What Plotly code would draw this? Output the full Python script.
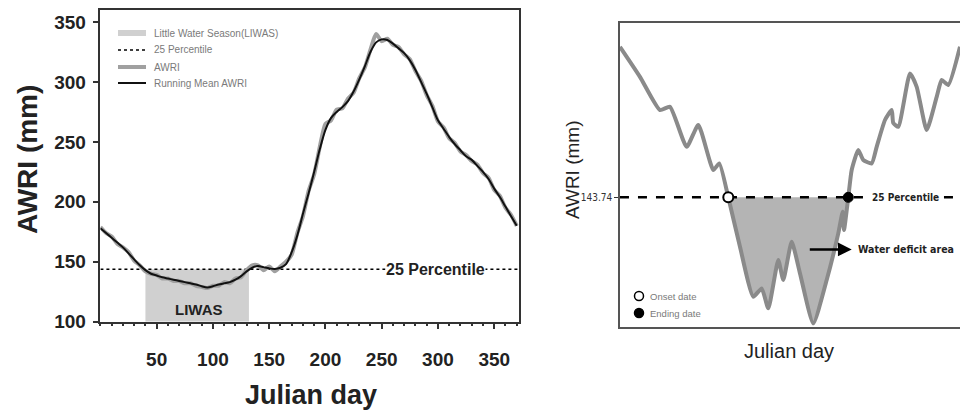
import plotly.graph_objects as go

# ---------------- Left panel data ----------------
days = [0, 5, 10, 15, 20, 25, 30, 35, 40, 45, 50, 55, 60, 65, 70, 75, 80, 85, 90, 95,
        100, 105, 110, 115, 120, 125, 130, 135, 140, 145, 150, 155, 160, 165, 170, 175,
        180, 185, 190, 195, 200, 205, 210, 215, 220, 225, 230, 235, 240, 245, 250, 255,
        260, 265, 270, 275, 280, 285, 290, 295, 300, 305, 310, 315, 320, 325, 330, 335,
        340, 345, 350, 355, 360, 365, 370]
running_mean = [178, 174, 170, 166, 162, 157, 152, 147, 143, 140, 138.5, 137, 136, 135, 134,
                133, 132, 131, 129.5, 128.5, 129.5, 131, 132, 133, 135, 138, 142, 145, 146.5,
                145.5, 144.5, 144, 145, 148, 158, 172, 190, 207, 225, 244, 260, 270, 275,
                279, 284, 292, 302, 313, 325, 333, 335.5, 335, 332, 328, 324, 318, 310, 300,
                290, 279, 268, 261, 254, 248, 243, 238, 235, 230, 225, 219, 211, 204, 196,
                188, 180]
awri = [179, 174, 171, 165, 162, 158, 151, 147, 142, 140, 139, 136, 136, 134, 134,
        132, 132, 130, 129, 128, 130, 130, 133, 132, 136, 137, 143, 147, 147,
        143, 146, 142, 146, 150, 156, 174, 188, 209, 223, 246, 265, 268, 277,
        278, 286, 291, 303, 312, 327, 340, 334, 336, 331, 329, 323, 319, 309, 301,
        289, 280, 267, 262, 253, 249, 242, 239, 234, 231, 224, 220, 210, 205, 195,
        189, 180]
p25 = 143.74
liwas_start = 40
liwas_end = 132
left_xticks = [50, 100, 150, 200, 250, 300, 350]
left_yticks = [100, 150, 200, 250, 300, 350]
left_legend_labels = ["Little Water Season(LIWAS)", "25 Percentile", "AWRI", "Running Mean AWRI"]

# ---------------- Right panel data (schematic) ----------------
r_days = [0, 20, 40, 50, 66.7, 78.3, 93.3, 99.3, 108.3, 120, 133.3, 141.7, 148.3, 158.3,
          163.3, 171.7, 180, 193.3, 206.7, 218.3, 222.7, 224, 228.3, 231.7, 238.3, 243.3,
          251.7, 256.7, 265, 271.7, 273.3, 278.3, 290, 296.7, 306.7, 316.7, 321.7, 328.3, 340]
r_awri = [219, 204, 187.4, 189, 169, 179.9, 157.4, 160.7, 143.74, 119, 94, 98.2, 88.2, 112.4,
          102.4, 121.5, 105.7, 80.7, 102.4, 125.7, 136.5, 127.4, 143.74, 157.4, 167.4, 162.4,
          160.7, 169, 182.4, 187.4, 180.9, 179, 205.7, 199, 177.4, 194, 202.4, 199.9, 219]
onset_idx = 8
ending_idx = 22
right_legend_labels = ["Onset date", "Ending date"]

W, H = 960, 414


def px(x):
    return x / W


def py(y):
    return 1 - y / H


fig = go.Figure()

# LIWAS rectangle
fig.add_trace(go.Scatter(
    x=[liwas_start, liwas_start, liwas_end, liwas_end, liwas_start],
    y=[100, p25, p25, 100, 100], fill="toself", fillcolor="#d0d0d0",
    line=dict(width=0, color="#d0d0d0"), mode="lines",
    xaxis="x", yaxis="y", hoverinfo="skip"))
# 25 percentile
fig.add_trace(go.Scatter(
    x=[0, 372], y=[p25, p25], mode="lines",
    line=dict(color="black", width=1.6, dash="dot"), xaxis="x", yaxis="y"))
# AWRI
fig.add_trace(go.Scatter(
    x=days, y=awri, mode="lines", line=dict(color="#a0a0a0", width=4, shape="spline", smoothing=0.6),
    xaxis="x", yaxis="y"))
# Running mean
fig.add_trace(go.Scatter(
    x=days, y=running_mean, mode="lines",
    line=dict(color="#111111", width=2, shape="spline", smoothing=0.8),
    xaxis="x", yaxis="y"))

# Right panel: deficit fill
fig.add_trace(go.Scatter(
    x=r_days[onset_idx:ending_idx + 1], y=r_awri[onset_idx:ending_idx + 1],
    mode="lines", line=dict(width=0, shape="spline", smoothing=0.5),
    fill="toself", fillcolor="#b4b4b4",
    xaxis="x2", yaxis="y2", hoverinfo="skip"))
fig.add_trace(go.Scatter(
    x=[0, 340], y=[p25, p25], mode="lines",
    line=dict(color="black", width=2.5, dash="dash"), xaxis="x2", yaxis="y2"))
fig.add_trace(go.Scatter(
    x=r_days, y=r_awri, mode="lines",
    line=dict(color="#8a8a8a", width=4, shape="spline", smoothing=0.5),
    xaxis="x2", yaxis="y2"))
fig.add_trace(go.Scatter(
    x=[r_days[onset_idx]], y=[r_awri[onset_idx]], mode="markers",
    marker=dict(symbol="circle", size=10, color="white", line=dict(color="black", width=2)),
    xaxis="x2", yaxis="y2"))
fig.add_trace(go.Scatter(
    x=[r_days[ending_idx]], y=[r_awri[ending_idx]], mode="markers",
    marker=dict(symbol="circle", size=10, color="black", line=dict(color="black", width=1)),
    xaxis="x2", yaxis="y2"))

tickfont = dict(family="Liberation Sans, Arial", size=19, color="#222", weight="bold")
fig.update_layout(
    width=W, height=H, autosize=False,
    margin=dict(l=0, r=0, t=0, b=0),
    paper_bgcolor="white", plot_bgcolor="white",
    font=dict(family="Liberation Sans, Arial", color="#222"),
    showlegend=False,
    xaxis=dict(domain=[0.1046, 0.5406], range=[0, 372], tickvals=left_xticks,
               ticks="outside", ticklen=6, tickwidth=1.5, tickcolor="#333",
               minor=dict(dtick=10, tick0=0, ticks="outside", ticklen=3, tickcolor="#333"),
               showline=True, linecolor="#333", linewidth=1.5, mirror=True,
               showgrid=False, zeroline=False, tickfont=tickfont, ticklabelstandoff=14,
               automargin=False),
    yaxis=dict(domain=[0.2230, 0.9758], range=[100, 360], tickvals=left_yticks,
               ticks="outside", ticklen=6, tickwidth=1.5, tickcolor="#333",
               showline=True, linecolor="#333", linewidth=1.5, mirror=True,
               showgrid=False, zeroline=False, tickfont=tickfont, ticklabelstandoff=3,
               automargin=False),
    xaxis2=dict(domain=[0.6458, 1.0], range=[0, 340], showticklabels=False, ticks="",
                showline=True, linecolor="#555", linewidth=1.5, mirror=True,
                showgrid=False, zeroline=False, anchor="y2", automargin=False),
    yaxis2=dict(domain=[0.2109, 0.9444], range=[79.04, 230.9], tickvals=[p25],
                ticktext=["143.74"], ticks="outside", ticklen=4, tickcolor="#333",
                tickfont=dict(family="Liberation Sans Narrow, DejaVu Sans Condensed, Liberation Sans",
                              size=10, color="#333"),
                showline=True, linecolor="#555", linewidth=1.5, mirror=True,
                showgrid=False, zeroline=False, anchor="x2", automargin=False),
)

narrow = "Liberation Sans Narrow, DejaVu Sans Condensed, Liberation Sans"
ann = []


def pann(x, y, text, size, angle=0, color="#222", family=None, xanchor="center"):
    f = dict(size=size, color=color)
    if family:
        f["family"] = family
    ann.append(dict(x=px(x), y=py(y), xref="paper", yref="paper", text=text,
                    textangle=angle, showarrow=False, xanchor=xanchor, yanchor="middle",
                    font=f))


# axis titles
pann(28, 160, "<b>AWRI (mm)</b>", 28, angle=-90)
pann(311, 395, "<b>Julian day</b>", 27)
pann(572, 170, "AWRI (mm)", 19, angle=-90)
pann(789, 351, "Julian day", 20)

# left in-plot labels
ann.append(dict(x=(liwas_start + liwas_end) / 2 + 2, y=110, xref="x", yref="y",
                text="<b>LIWAS</b>", showarrow=False, font=dict(size=15, color="#222")))
ann.append(dict(x=298, y=p25, xref="x", yref="y", text="<b>25 Percentile</b>",
                showarrow=False, bgcolor="white", borderpad=0,
                font=dict(size=16, color="#222")))

# right in-plot labels
ann.append(dict(x=249, y=p25, xref="x2", yref="y2", text="<b>25 Percentile</b>",
                xanchor="left", showarrow=False, bgcolor="white", borderpad=2,
                font=dict(family=narrow, size=10, color="#222")))
ann.append(dict(x=231.7, y=117.7, xref="x2", yref="y2", ax=188.3, ay=117.7,
                axref="x2", ayref="y2", text="", showarrow=True, arrowhead=2,
                arrowsize=1.1, arrowwidth=2.5, arrowcolor="black"))
ann.append(dict(x=236, y=117.7, xref="x2", yref="y2", text="<b>Water deficit area</b>",
                xanchor="left", showarrow=False,
                font=dict(family=narrow, size=10.5, color="#222")))

# manual legend (left panel)
shapes = []
leg_rows = [33, 50, 67, 83]
leg_styles = [dict(color="#d0d0d0", width=6),
              dict(color="black", width=1.6, dash="dot"),
              dict(color="#a0a0a0", width=4),
              dict(color="#111111", width=2)]
for yrow, lab, st in zip(leg_rows, left_legend_labels, leg_styles):
    shapes.append(dict(type="line", xref="paper", yref="paper",
                       x0=px(118), x1=px(146), y0=py(yrow), y1=py(yrow), line=st))
    pann(152, yrow, lab, 10, color="#7a7a7a", xanchor="left")

# manual legend (right panel)
r_rows = [296, 313]
r_fill = ["white", "black"]
for yrow, lab, fc in zip(r_rows, right_legend_labels, r_fill):
    shapes.append(dict(type="circle", xref="paper", yref="paper",
                       x0=px(634.5), x1=px(643.5), y0=py(yrow - 4.5), y1=py(yrow + 4.5),
                       fillcolor=fc, line=dict(color="black", width=1.5)))
    pann(648, yrow, lab, 9.5, color="#7a7a7a", xanchor="left")

fig.update_layout(annotations=ann, shapes=shapes)

fig.write_html("out.html", config={"displayModeBar": False},
               post_script="document.body.style.margin='0';document.body.style.overflow='hidden';")
